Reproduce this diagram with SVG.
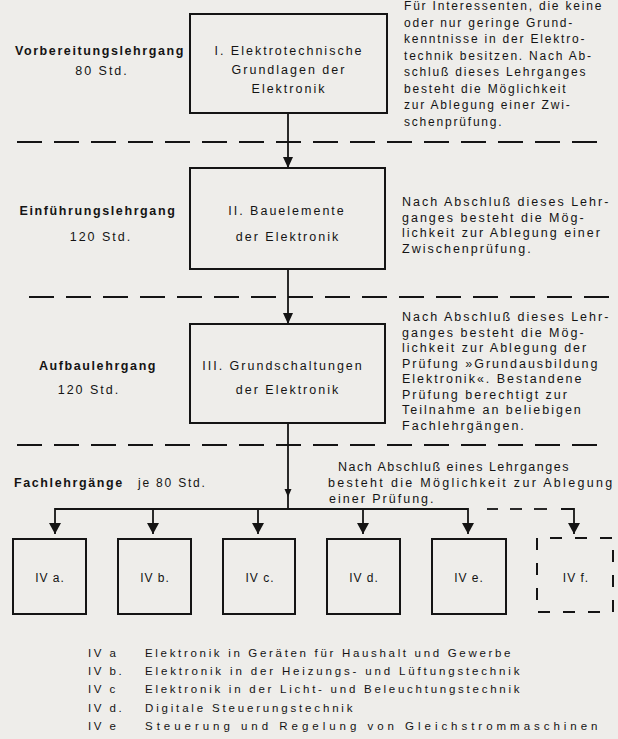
<svg xmlns="http://www.w3.org/2000/svg" width="618" height="739" viewBox="0 0 618 739">
<defs>
<style>
.bg{fill:#eeedea}
.box{fill:none;stroke:#141414;stroke-width:2}
.t{font-family:"Liberation Sans",Arial,sans-serif;font-size:12.5px;letter-spacing:2px;fill:#141414}
.s{font-size:12px;letter-spacing:1.8px}
.b{font-weight:bold;letter-spacing:1.6px}
.c{text-anchor:middle}
.n{letter-spacing:1px}
.lg{font-size:11.5px;letter-spacing:2.5px}
.sep{stroke:#141414;stroke-width:2;stroke-dasharray:25 12;fill:none}
.ln{stroke:#141414;stroke-width:1.8;fill:none}
</style>
<marker id="arr" markerUnits="userSpaceOnUse" markerWidth="10" markerHeight="11" refX="5" refY="11" orient="0" viewBox="0 0 10 11">
<path d="M0,0 L10,0 L5,11 Z" fill="#141414"/>
</marker>
<marker id="arrL" markerUnits="userSpaceOnUse" markerWidth="12" markerHeight="11" refX="6" refY="11" orient="0" viewBox="0 0 12 11">
<path d="M0,0 L12,0 L6,11 Z" fill="#141414"/>
</marker>
</defs>
<rect class="bg" x="0" y="0" width="618" height="739"/>

<g id="separators">
<line class="sep" x1="17" y1="142" x2="606" y2="142"/>
<line class="sep" x1="29" y1="297" x2="612" y2="297"/>
<line class="sep" x1="17" y1="445" x2="606" y2="445"/>
</g>

<g id="connectors">
<line class="ln" x1="288" y1="113" x2="288" y2="168" marker-end="url(#arr)"/>
<line class="ln" x1="288" y1="269" x2="288" y2="324" marker-end="url(#arr)"/>
<line class="ln" x1="288" y1="423" x2="288" y2="509"/>
<polygon points="284.5,489 291.5,489 288,497" fill="#141414"/>
<line class="ln" x1="55" y1="509" x2="468" y2="509"/>
<line class="ln" x1="55" y1="508" x2="55" y2="534" marker-end="url(#arrL)"/>
<line class="ln" x1="153" y1="509" x2="153" y2="534" marker-end="url(#arrL)"/>
<line class="ln" x1="258" y1="509" x2="258" y2="534" marker-end="url(#arrL)"/>
<line class="ln" x1="363" y1="509" x2="363" y2="534" marker-end="url(#arrL)"/>
<line class="ln" x1="468" y1="508" x2="468" y2="534" marker-end="url(#arrL)"/>
<line class="ln" x1="487" y1="509" x2="498" y2="509"/>
<line class="ln" x1="510" y1="509" x2="522" y2="509"/>
<line class="ln" x1="534" y1="509" x2="547" y2="509"/>
<path class="ln" d="M561,509 H574 V534" marker-end="url(#arrL)"/>
</g>

<g id="node-I">
<rect class="box" x="190" y="14" width="197" height="99"/>
<text class="t c" x="289" y="55">I. Elektrotechnische</text>
<text class="t c" x="289" y="74">Grundlagen der</text>
<text class="t c" x="289" y="93">Elektronik</text>
</g>
<g id="label-I">
<text class="t b c" x="100" y="55">Vorbereitungslehrgang</text>
<text class="t c" x="102" y="75">80 Std.</text>
</g>
<g id="note-I">
<text class="t s" x="404" y="10">Für Interessenten, die keine</text>
<text class="t s" x="404" y="26.5">oder nur geringe Grund-</text>
<text class="t s" x="404" y="43">kenntnisse in der Elektro-</text>
<text class="t s" x="404" y="59.5">technik besitzen. Nach Ab-</text>
<text class="t s" x="404" y="76">schluß dieses Lehrganges</text>
<text class="t s" x="404" y="92.5">besteht die Möglichkeit</text>
<text class="t s" x="404" y="109">zur Ablegung einer Zwi-</text>
<text class="t s" x="404" y="125.5">schenprüfung.</text>
</g>

<g id="node-II">
<rect class="box" x="190" y="168" width="195" height="101"/>
<text class="t c" x="287" y="215">II. Bauelemente</text>
<text class="t c" x="288" y="240.5">der Elektronik</text>
</g>
<g id="label-II">
<text class="t b c" x="98" y="215">Einführungslehrgang</text>
<text class="t c" x="101" y="240.5">120 Std.</text>
</g>
<g id="note-II">
<text class="t" x="402" y="206">Nach Abschluß dieses Lehr-</text>
<text class="t" x="402" y="221.5">ganges besteht die Mög-</text>
<text class="t" x="402" y="237">lichkeit zur Ablegung einer</text>
<text class="t" x="402" y="252.5">Zwischenprüfung.</text>
</g>

<g id="node-III">
<rect class="box" x="190" y="324" width="195" height="99"/>
<text class="t c" x="283" y="370">III. Grundschaltungen</text>
<text class="t c" x="288" y="394">der Elektronik</text>
</g>
<g id="label-III">
<text class="t b c" x="98" y="370">Aufbaulehrgang</text>
<text class="t c" x="89" y="394">120 Std.</text>
</g>
<g id="note-III">
<text class="t" x="402" y="321">Nach Abschluß dieses Lehr-</text>
<text class="t" x="402" y="336.5">ganges besteht die Mög-</text>
<text class="t" x="402" y="352">lichkeit zur Ablegung der</text>
<text class="t" x="402" y="367.5">Prüfung »Grundausbildung</text>
<text class="t" x="402" y="383">Elektronik«. Bestandene</text>
<text class="t" x="402" y="398.5">Prüfung berechtigt zur</text>
<text class="t" x="402" y="414">Teilnahme an beliebigen</text>
<text class="t" x="402" y="429.5">Fachlehrgängen.</text>
</g>

<g id="label-IV">
<text class="t b" x="14" y="487">Fachlehrgänge</text>
<text class="t s" x="138" y="487">je 80 Std.</text>
</g>
<g id="note-IV">
<text class="t" x="338" y="471" style="letter-spacing:1.5px">Nach Abschluß eines Lehrganges</text>
<text class="t" x="328" y="487" style="letter-spacing:2.3px">besteht die Möglichkeit zur Ablegung</text>
<text class="t" x="329" y="503">einer Prüfung.</text>
</g>

<g id="node-IVa">
<rect class="box" x="13" y="539" width="73" height="75"/>
<text class="t s c n" x="50" y="582">IV a.</text>
</g>
<g id="node-IVb">
<rect class="box" x="118" y="539" width="73" height="75"/>
<text class="t s c n" x="155" y="582">IV b.</text>
</g>
<g id="node-IVc">
<rect class="box" x="223" y="539" width="72" height="75"/>
<text class="t s c n" x="260" y="582">IV c.</text>
</g>
<g id="node-IVd">
<rect class="box" x="327" y="539" width="73" height="75"/>
<text class="t s c n" x="364" y="582">IV d.</text>
</g>
<g id="node-IVe">
<rect class="box" x="432" y="539" width="74" height="75"/>
<text class="t s c n" x="469" y="582">IV e.</text>
</g>
<g id="node-IVf">
<path class="box" d="M537,538 H613 V612 H537 Z" stroke-dasharray="12 13" stroke-dashoffset="12"/>
<text class="t s c n" x="576" y="582">IV f.</text>
</g>

<g id="legend">
<text class="t lg n" x="88" y="656.5">IV a</text>
<text class="t lg" x="145" y="656.5" textLength="368" lengthAdjust="spacing">Elektronik in Geräten für Haushalt und Gewerbe</text>
<text class="t lg n" x="88" y="675">IV b.</text>
<text class="t lg" x="145" y="675" textLength="377" lengthAdjust="spacing">Elektronik in der Heizungs- und Lüftungstechnik</text>
<text class="t lg n" x="88" y="693">IV c</text>
<text class="t lg" x="145" y="693" textLength="377" lengthAdjust="spacing">Elektronik in der Licht- und Beleuchtungstechnik</text>
<text class="t lg n" x="88" y="711.5">IV d.</text>
<text class="t lg" x="145" y="711.5" textLength="210" lengthAdjust="spacing">Digitale Steuerungstechnik</text>
<text class="t lg n" x="88" y="730">IV e</text>
<text class="t lg" x="145" y="730" textLength="455" lengthAdjust="spacing">Steuerung und Regelung von Gleichstrommaschinen</text>
</g>
</svg>
